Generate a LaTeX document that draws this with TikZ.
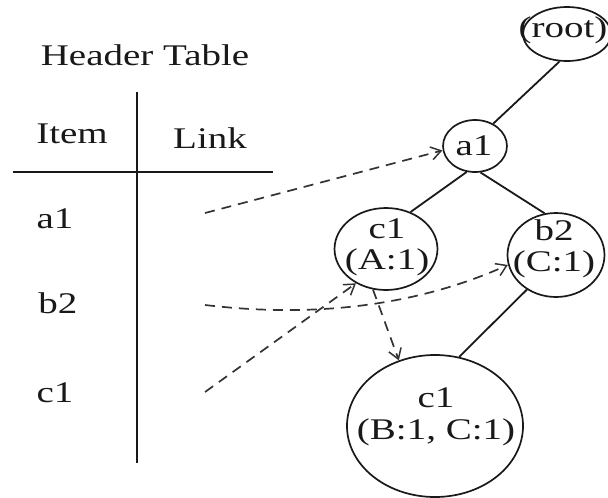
\documentclass[tikz,border=0pt]{standalone}
\usepackage{fontspec}
\setmainfont{Liberation Serif}
\usetikzlibrary{arrows.meta,shapes.geometric}
\begin{document}
\begin{tikzpicture}[x=0.76923pt, y=-1pt, xscale=1.3,
  every node/.style={transform shape},
  txt/.style={font=\fontsize{30}{31}\selectfont, inner sep=0pt, align=center, text=black!90},
  ell/.style={draw=black!90, ellipse, line width=1.7pt, inner sep=0pt},
  treeedge/.style={line width=1.8pt, draw=black!90},
  tablerule/.style={line width=2.3pt, draw=black!90},
  linkarrow/.style={line width=1.7pt, draw=black!80, dash pattern=on 10pt off 7pt,
    -{Straight Barb[length=10pt,width=13pt,line width=1.5pt]}},
]
\useasboundingbox (0,0) rectangle (608,498);
\clip (0,0) rectangle (608,498);

% header table
\node[txt, anchor=base] (title) at (145,65) {Header Table};
\node[txt, anchor=base] (item) at (72,143) {Item};
\node[txt, anchor=base] (link) at (210,148) {Link};
\coordinate (vtop) at (137,92);
\coordinate (vbot) at (137,463);
\coordinate (hl) at (13,172);
\coordinate (hr) at (273,172);
\draw[tablerule] (vtop) -- (vbot);
\draw[tablerule] (hl) -- (hr);
\node[txt, anchor=base] (ia1) at (55,228) {a1};
\node[txt, anchor=base] (ib2) at (58,313) {b2};
\node[txt, anchor=base] (ic1) at (55,402) {c1};

% FP-tree
\node[ell, minimum width=67.7pt, minimum height=54pt] (root) at (567,34) {};
\node[txt, anchor=base] (rootlabel) at (563,37) {(root)};
\node[ell, minimum width=49.2pt, minimum height=52pt] (a1) at (475,146) {};
\node[txt, anchor=base] (a1label) at (474,155) {a1};
\node[ell, minimum width=79.2pt, minimum height=82pt] (c1a) at (386,249) {};
\node[txt] (c1alabel) at (387,247.5) {c1\\(A:1)};
\node[ell, minimum width=74.6pt, minimum height=84pt] (b2) at (556,255) {};
\node[txt] (b2label) at (554,248.5) {b2\\(C:1)};
\node[ell, minimum width=135.4pt, minimum height=142pt] (c1b) at (435,426) {};
\node[txt, font=\fontsize{30}{32}\selectfont] (c1blabel) at (436,417) {c1\\(B:1, C:1)};

\draw[treeedge] (root.258) -- (a1.58);
\draw[treeedge] (a1.256) -- (c1a.63);
\draw[treeedge] (a1.279) -- (b2.102);
\draw[treeedge] (b2.237) -- (c1b.75);

% node links
\coordinate (la1) at (205,213);
\coordinate (lb2) at (205,305);
\coordinate (lc1) at (205,392);
\draw[linkarrow] (la1) -- (a1.190);
\draw[linkarrow] (lb2) .. controls (330,320) and (430,300) .. (b2.195);
\draw[linkarrow] (lc1) -- (c1a.236);
\draw[linkarrow] (c1a.256) -- (c1b.113);
\end{tikzpicture}
\end{document}
